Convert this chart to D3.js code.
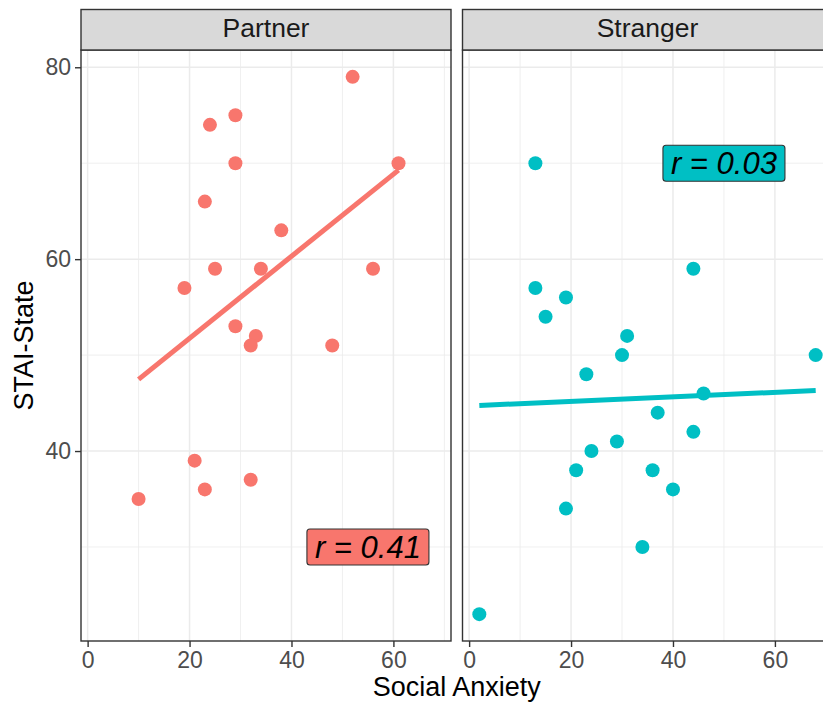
<!DOCTYPE html>
<html lang="en">
<head>
<meta charset="utf-8">
<title>STAI-State by Social Anxiety</title>
<script src="https://cdn.jsdelivr.net/npm/d3@7/dist/d3.min.js"></script>
<style>
body {
  margin: 0;
  background: #fff;
}
svg {
  display: block;
  font-family: "Liberation Sans", Arial, sans-serif;
}
.axis text {
  font-size: 23px;
  fill: #4D4D4D;
}
.axis line {
  stroke: #333;
  stroke-width: 1.4px;
}
.axis .domain {
  display: none;
}
.strip text {
  font-size: 26.5px;
  fill: #1A1A1A;
}
.title {
  font-size: 27px;
  fill: #000;
}
.rlabel text {
  font-size: 31px;
  font-style: italic;
  fill: #000;
}
</style>
</head>
<body>
<svg width="823" height="702"></svg>
<script>

// facets
var panels = ["Partner", "Stranger"];
var colours = ["#F8766D", "#00BFC4"];

// Partner points (Social Anxiety, STAI-State)
var partnerX = [52, 29, 24, 29, 61, 23, 38, 25, 34, 56, 19, 29, 33, 32, 48, 21, 32, 23, 10];
var partnerY = [79, 75, 74, 70, 70, 66, 63, 59, 59, 59, 57, 53, 52, 51, 51, 39, 37, 36, 35];

// Stranger points
var strangerX = [13, 44, 13, 19, 15, 31, 30, 68, 23, 46, 37, 44, 29, 24, 21, 36, 40, 19, 34, 2];
var strangerY = [70, 59, 57, 56, 54, 52, 50, 50, 48, 46, 44, 42, 41, 40, 38, 38, 36, 34, 30, 23];

// correlation labels and where they sit (data units)
var labelText = ["r = 0.41", "r = 0.03"];
var labelX = [55, 50];
var labelY = [30, 70];

// ticks
var xTicks = [0, 20, 40, 60];
var xMinor = [10, 30, 50, 70];
var yTicks = [40, 60, 80];
var yMinor = [30, 50, 70];

function drawGraphic() {

  var svg = d3.select("svg");

  var panelLeft = [81, 462.5],
      panelW = 370,
      panelTop = 50,
      panelBottom = 641,
      stripTop = 9.5;

  var xs = [partnerX, strangerX],
      ys = [partnerY, strangerY];

  // ggplot style 5% expansion
  function expand(ext) {
    var d = (ext[1] - ext[0]) * 0.05;
    return [ext[0] - d, ext[1] + d];
  }

  // least squares line, like geom_smooth(method = "lm")
  function fit(vx, vy) {
    var mx = d3.mean(vx), my = d3.mean(vy);
    var sxy = d3.sum(vx, function(v, k) { return (v - mx) * (vy[k] - my); });
    var sxx = d3.sum(vx, function(v) { return (v - mx) * (v - mx); });
    var b = sxy / sxx;
    return function(v) { return my + b * (v - mx); };
  }

  var xDomain = expand(d3.extent(partnerX.concat(strangerX)));
  var y = d3.scaleLinear()
    .domain(expand(d3.extent(partnerY.concat(strangerY))))
    .range([panelBottom, panelTop]);

  panels.forEach(function(name, i) {

    var x = d3.scaleLinear()
      .domain(xDomain)
      .range([panelLeft[i], panelLeft[i] + panelW]);

    var g = svg.append("g");

    g.append("rect")
      .attr("x", panelLeft[i]).attr("y", panelTop)
      .attr("width", panelW).attr("height", panelBottom - panelTop)
      .attr("fill", "#fff");

    // grid
    var grid = g.append("g");
    grid.selectAll(".vminor").data(xMinor).enter().append("line")
      .attr("x1", x).attr("x2", x).attr("y1", panelTop).attr("y2", panelBottom)
      .attr("stroke", "#EBEBEB").attr("stroke-width", 0.8);
    grid.selectAll(".hminor").data(yMinor).enter().append("line")
      .attr("x1", panelLeft[i]).attr("x2", panelLeft[i] + panelW)
      .attr("y1", y).attr("y2", y)
      .attr("stroke", "#EBEBEB").attr("stroke-width", 0.8);
    grid.selectAll(".vmajor").data(xTicks).enter().append("line")
      .attr("x1", x).attr("x2", x).attr("y1", panelTop).attr("y2", panelBottom)
      .attr("stroke", "#EBEBEB").attr("stroke-width", 1.5);
    grid.selectAll(".hmajor").data(yTicks).enter().append("line")
      .attr("x1", panelLeft[i]).attr("x2", panelLeft[i] + panelW)
      .attr("y1", y).attr("y2", y)
      .attr("stroke", "#EBEBEB").attr("stroke-width", 1.5);

    // points
    g.append("g").selectAll("circle")
      .data(xs[i]).enter().append("circle")
      .attr("cx", function(d) { return x(d); })
      .attr("cy", function(d, k) { return y(ys[i][k]); })
      .attr("r", 7)
      .attr("fill", colours[i]);

    // regression line
    var f = fit(xs[i], ys[i]);
    var ext = d3.extent(xs[i]);
    g.append("line")
      .attr("x1", x(ext[0])).attr("y1", y(f(ext[0])))
      .attr("x2", x(ext[1])).attr("y2", y(f(ext[1])))
      .attr("stroke", colours[i])
      .attr("stroke-width", 5);

    // r label
    var lab = g.append("g").attr("class", "rlabel");
    var box = lab.append("rect");
    var txt = lab.append("text")
      .attr("x", x(labelX[i]))
      .attr("y", y(labelY[i]) + 31 * 0.36)
      .attr("text-anchor", "middle")
      .text(labelText[i]);
    var bb = txt.node().getBBox();
    box.attr("x", bb.x - 8).attr("y", y(labelY[i]) - 18)
      .attr("width", bb.width + 16).attr("height", 36)
      .attr("rx", 3).attr("ry", 3)
      .attr("fill", colours[i])
      .attr("stroke", "#333").attr("stroke-width", 1.1);

    // panel border
    g.append("rect")
      .attr("x", panelLeft[i]).attr("y", panelTop)
      .attr("width", panelW).attr("height", panelBottom - panelTop)
      .attr("fill", "none")
      .attr("stroke", "#333").attr("stroke-width", 1.4);

    // strip
    var strip = svg.append("g").attr("class", "strip");
    strip.append("rect")
      .attr("x", panelLeft[i]).attr("y", stripTop)
      .attr("width", panelW).attr("height", panelTop - stripTop)
      .attr("fill", "#D9D9D9")
      .attr("stroke", "#333").attr("stroke-width", 1.4);
    strip.append("text")
      .attr("x", panelLeft[i] + panelW / 2)
      .attr("y", 37)
      .attr("text-anchor", "middle")
      .text(name);

    // x axis
    svg.append("g")
      .attr("class", "axis")
      .attr("transform", "translate(0," + panelBottom + ")")
      .call(d3.axisBottom(x).tickValues(xTicks).tickSize(6).tickPadding(5));

    if (i == 0) {
      svg.append("g")
        .attr("class", "axis")
        .attr("transform", "translate(" + panelLeft[i] + ",0)")
        .call(d3.axisLeft(y).tickValues(yTicks).tickSize(6).tickPadding(4));
    }
  });

  svg.selectAll(".axis text").attr("font-family", null).attr("font-size", null);

  // axis titles
  svg.append("text")
    .attr("class", "title")
    .attr("x", (panelLeft[0] + panelLeft[1] + panelW) / 2)
    .attr("y", 696)
    .attr("text-anchor", "middle")
    .text("Social Anxiety");

  svg.append("text")
    .attr("class", "title")
    .attr("transform", "translate(33," + (panelTop + panelBottom) / 2 + ") rotate(-90)")
    .attr("text-anchor", "middle")
    .text("STAI-State");
}

drawGraphic();

</script>
</body>
</html>
